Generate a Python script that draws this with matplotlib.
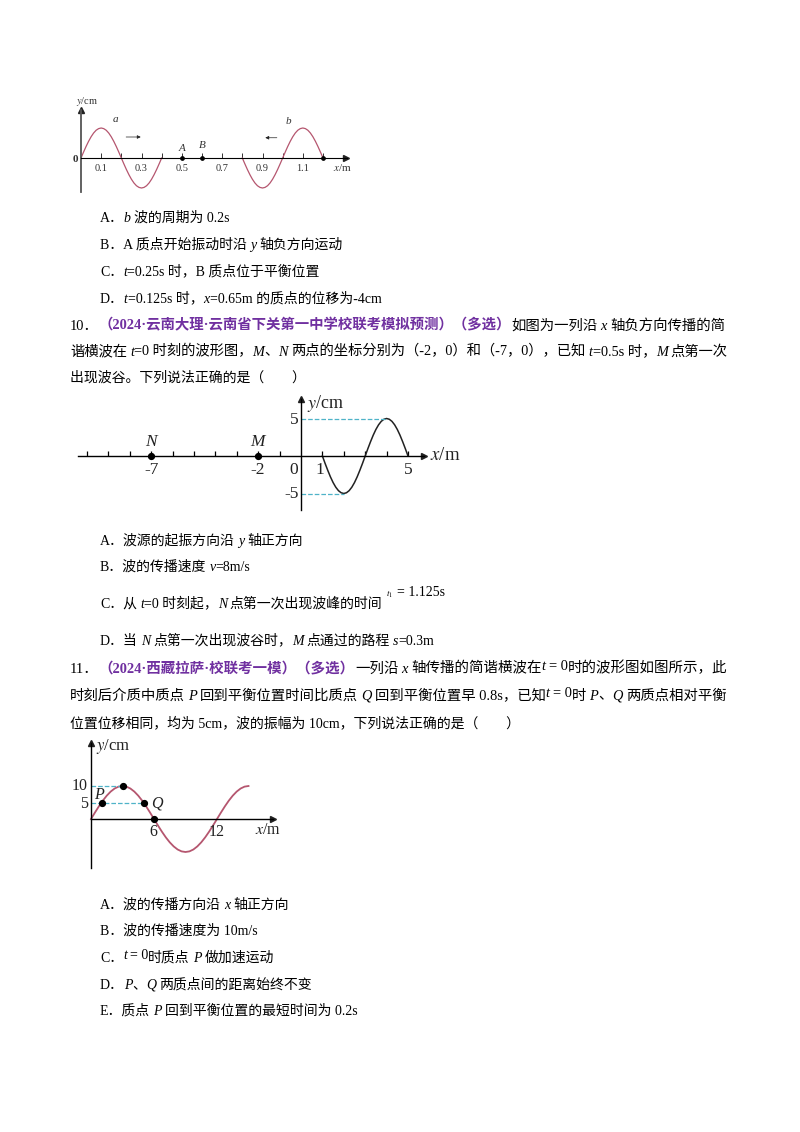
import numpy as np
import matplotlib
matplotlib.use("Agg")
import matplotlib.pyplot as plt

W, H = 800, 1132
TEXT_FONT = ["Liberation Serif", "Noto Sans CJK SC"]
PURPLE = "#7030A0"
WAVE_RED = "#B5566F"
DASH = "#4FB3C8"

# Wave diagram data
wave_a_x = [0, .0125, .025, .0375, .05, .0625, .075, .0875, .1, .1125, .125, .1375, .15, .1625, .175, .1875, .2,
            .2125, .225, .2375, .25, .2625, .275, .2875, .3, .3125, .325, .3375, .35, .3625, .375, .3875, .4]
wave_a_y = [0, .78, 1.53, 2.22, 2.83, 3.33, 3.7, 3.92, 4, 3.92, 3.7, 3.33, 2.83, 2.22, 1.53, .78, 0,
            -.78, -1.53, -2.22, -2.83, -3.33, -3.7, -3.92, -4, -3.92, -3.7, -3.33, -2.83, -2.22, -1.53, -.78, 0]
wave_b_x = [.8, .8125, .825, .8375, .85, .8625, .875, .8875, .9, .9125, .925, .9375, .95, .9625, .975, .9875, 1.0,
            1.0125, 1.025, 1.0375, 1.05, 1.0625, 1.075, 1.0875, 1.1, 1.1125, 1.125, 1.1375, 1.15, 1.1625, 1.175, 1.1875, 1.2]
wave_b_y = [0, -.78, -1.53, -2.22, -2.83, -3.33, -3.7, -3.92, -4, -3.92, -3.7, -3.33, -2.83, -2.22, -1.53, -.78, 0,
            .78, 1.53, 2.22, 2.83, 3.33, 3.7, 3.92, 4, 3.92, 3.7, 3.33, 2.83, 2.22, 1.53, .78, 0]
fig1_ticks = [.1, .2, .3, .4, .5, .6, .7, .8, .9, 1.0, 1.1, 1.2]
fig1_labels = ["0.1", "", "0.3", "", "0.5", "", "0.7", "", "0.9", "", "1.1", ""]
fig1_points_x = [.5, .6, 1.2]

wave2_x = [1, 1.125, 1.25, 1.375, 1.5, 1.625, 1.75, 1.875, 2, 2.125, 2.25, 2.375, 2.5, 2.625, 2.75, 2.875, 3,
           3.125, 3.25, 3.375, 3.5, 3.625, 3.75, 3.875, 4, 4.125, 4.25, 4.375, 4.5, 4.625, 4.75, 4.875, 5]
wave2_y = [0, -.98, -1.91, -2.78, -3.54, -4.16, -4.62, -4.9, -5, -4.9, -4.62, -4.16, -3.54, -2.78, -1.91, -.98, 0,
           .98, 1.91, 2.78, 3.54, 4.16, 4.62, 4.9, 5, 4.9, 4.62, 4.16, 3.54, 2.78, 1.91, .98, 0]
fig2_ticks = [-10, -9, -8, -7, -6, -5, -4, -3, -2, -1, 1, 2, 3, 4, 5]
fig2_points_x = [-7, -2]

wave3_x = [0, .375, .75, 1.125, 1.5, 1.875, 2.25, 2.625, 3, 3.375, 3.75, 4.125, 4.5, 4.875, 5.25, 5.625, 6,
           6.375, 6.75, 7.125, 7.5, 7.875, 8.25, 8.625, 9, 9.375, 9.75, 10.125, 10.5, 10.875, 11.25, 11.625, 12,
           12.375, 12.75, 13.125, 13.5, 13.875, 14.25, 14.625, 15]
wave3_y = [0, 1.95, 3.83, 5.56, 7.07, 8.31, 9.24, 9.81, 10, 9.81, 9.24, 8.31, 7.07, 5.56, 3.83, 1.95, 0,
           -1.95, -3.83, -5.56, -7.07, -8.31, -9.24, -9.81, -10, -9.81, -9.24, -8.31, -7.07, -5.56, -3.83, -1.95, 0,
           1.95, 3.83, 5.56, 7.07, 8.31, 9.24, 9.81, 10]
fig3_points_x = [1, 3, 5, 6]
fig3_points_y = [5, 10, 5, 0]

# Page text: ^ toggles the purple bold header, * toggles italic, ~ raises a piece a little
# (x, y centre, text, right edge to fit to or None)
page_lines = [
    (100, 217, "A．*b* 波的周期为 0.2s", None),
    (100, 244, "B．A 质点开始振动时沿 *y* 轴负方向运动", None),
    (100, 271, "C．*t*=0.25s 时，B 质点位于平衡位置", None),
    (100, 298, "D．*t*=0.125s 时，*x*=0.65m 的质点的位移为-4cm", None),
    (70, 325, "10．^（2024·云南大理·云南省下关第一中学校联考模拟预测）（多选）^如图为一列沿 *x* 轴负方向传播的简", 725),
    (70, 351, "谐横波在 *t*=0 时刻的波形图，*M*、*N* 两点的坐标分别为（-2，0）和（-7，0），已知 *t*=0.5s 时，*M* 点第一次", 730),
    (70, 377, "出现波谷。下列说法正确的是（　　）", None),
    (100, 540, "A．波源的起振方向沿 *y* 轴正方向", None),
    (100, 566, "B．波的传播速度 *v*=8m/s", None),
    (100, 603, "C．从 *t*=0 时刻起，*N* 点第一次出现波峰的时间", None),
    (100, 640, "D．当 *N* 点第一次出现波谷时，*M* 点通过的路程 *s*=0.3m", None),
    (70, 668, "11．^（2024·西藏拉萨·校联考一模）（多选）^一列沿 *x* 轴传播的简谐横波在~*t* = 0~时的波形图如图所示，此", 725),
    (70, 695, "时刻后介质中质点 *P* 回到平衡位置时间比质点 *Q* 回到平衡位置早 0.8s，已知~*t* = 0~时 *P*、*Q* 两质点相对平衡", 725),
    (70, 723, "位置位移相同，均为 5cm，波的振幅为 10cm，下列说法正确的是（　　）", None),
    (100, 904, "A．波的传播方向沿 *x* 轴正方向", None),
    (100, 930, "B．波的传播速度为 10m/s", None),
    (100, 957, "C．~*t* = 0~时质点 *P* 做加速运动", None),
    (100, 984, "D．*P*、*Q* 两质点间的距离始终不变", None),
    (100, 1010, "E．质点 *P* 回到平衡位置的最短时间为 0.2s", None),
]

fig = plt.figure(figsize=(W / 100, H / 100), dpi=100, facecolor="white")
page = fig.add_axes([0, 0, 1, 1])
page.set_xlim(0, W)
page.set_ylim(H, 0)
page.axis("off")
renderer = fig.canvas.get_renderer()


def split_runs(text):
    runs = []
    piece = ""
    italic = header = raised = False
    for ch in text:
        if ch in "*^~":
            if piece:
                runs.append((piece, italic, header, raised))
            piece = ""
            italic = italic != (ch == "*")
            header = header != (ch == "^")
            raised = raised != (ch == "~")
        else:
            piece += ch
    if piece:
        runs.append((piece, italic, header, raised))
    return runs


def draw_runs(x, y, runs, size):
    artists = []
    for txt, italic, header, raised in runs:
        lead = len(txt) - len(txt.lstrip(" "))
        trail = len(txt) - len(txt.rstrip(" "))
        x += lead * size * 0.3
        body = txt.strip(" ")
        if body:
            t = page.text(x, y + 4.6 - (3 if raised else 0), body, family=TEXT_FONT, fontsize=size,
                          style="italic" if italic else "normal",
                          weight="bold" if header else "normal",
                          color=PURPLE if header else "black",
                          ha="left", va="baseline")
            artists.append(t)
            x += t.get_window_extent(renderer).width
        x += trail * size * 0.3
    return x, artists


def draw_line(x, y, text, right, size=10):
    runs = split_runs(text)
    end, artists = draw_runs(x, y, runs, size)
    if right is not None:
        for a in artists:
            a.remove()
        size = size * (right - x) / (end - x)
        end, artists = draw_runs(x, y, runs, size)
    return end


def diagram_axes(x0_px, x1_px, y0_px, y1_px, xscale, yscale, xzero, yzero):
    # axes covering the given pixel box, with data scale set from pixels per unit
    ax = fig.add_axes([x0_px / W, 1 - y1_px / H, (x1_px - x0_px) / W, (y1_px - y0_px) / H])
    ax.set_xlim((x0_px - xzero) / xscale, (x1_px - xzero) / xscale)
    ax.set_ylim((yzero - y1_px) / yscale, (yzero - y0_px) / yscale)
    ax.patch.set_alpha(0)
    for side in ["top", "right"]:
        ax.spines[side].set_visible(False)
    ax.spines["left"].set_position(("data", 0))
    ax.spines["bottom"].set_position(("data", 0))
    ax.set_yticks([])
    ax.plot(1, 0, ">", color="#222222", ms=4.5, transform=ax.get_yaxis_transform(), clip_on=False)
    ax.plot(0, 1, "^", color="#222222", ms=4.5, transform=ax.get_xaxis_transform(), clip_on=False)
    return ax


for x, y, text, right in page_lines:
    draw_line(x, y, text, right)

# inline formula after option C of question 10
page.text(386, 594, "$t_1$", fontsize=6.5, family="Liberation Serif", va="center", math_fontfamily="stix")
page.text(397, 592, "= 1.125s", fontsize=10, family="Liberation Serif", va="center")

# Figure 1: waves a and b
ax1 = diagram_axes(70, 346, 110, 192, 242 / 1.2, 30 / 4, 81, 158)
ax1.plot(wave_a_x, wave_a_y, color=WAVE_RED, lw=0.9)
ax1.plot(wave_b_x, wave_b_y, color=WAVE_RED, lw=0.9)
ax1.spines["left"].set_linewidth(1.3)
ax1.spines["left"].set_color("#555555")
ax1.spines["bottom"].set_linewidth(0.8)
ax1.spines["bottom"].set_bounds(0, 1.32)
ax1.set_xticks(fig1_ticks, fig1_labels, family="Liberation Serif", fontsize=7.5)
ax1.tick_params(axis="x", direction="in", length=3.5, width=0.7, pad=4.5, colors="#333333")
ax1.plot(fig1_points_x, [0] * len(fig1_points_x), "o", color="black", ms=2.4)
ax1.annotate("", xy=(.31, 2.8), xytext=(.21, 2.8), arrowprops=dict(arrowstyle="-|>", lw=0.5, color="#222222", mutation_scale=5))
ax1.annotate("", xy=(.9, 2.7), xytext=(.985, 2.7), arrowprops=dict(arrowstyle="-|>", lw=0.5, color="#222222", mutation_scale=5))
serif1 = dict(family="Liberation Serif", fontsize=8, ha="center", va="center", color="#333333")
ax1.text(.169, 5.2, "a", style="italic", **serif1)
ax1.text(1.027, 4.8, "b", style="italic", **serif1)
ax1.text(.5, 1.33, "A", style="italic", **serif1)
ax1.text(.6, 1.6, "B", style="italic", **serif1)
ax1.text(-.03, -.15, "0", weight="bold", **serif1)
ax1.text(1.295, -1.25, "$\\mathit{x}$/m", math_fontfamily="stix", **serif1)
page.text(87, 101, "$\\mathit{y}$/cm", family="Liberation Serif", fontsize=7.5, ha="center", va="center", math_fontfamily="stix", color="#333333")

# Figure 2: question 10
ax2 = diagram_axes(78, 424, 399, 510, 21.4, 37.5 / 5, 301, 456)
ax2.plot(wave2_x, wave2_y, color="#222222", lw=1.1)
ax2.set_xticks(fig2_ticks, [""] * len(fig2_ticks))
ax2.tick_params(axis="x", direction="in", length=3.5, width=0.9)
ax2.spines["left"].set_linewidth(1.0)
ax2.spines["bottom"].set_linewidth(1.0)
ax2.plot(fig2_points_x, [0, 0], "o", color="black", ms=4.2)
ax2.plot([0, 4], [5, 5], "--", color=DASH, lw=0.9)
ax2.plot([0, 2], [-5, -5], "--", color=DASH, lw=0.9)
serif2 = dict(family="Liberation Serif", fontsize=12.5, ha="center", va="center", color="#222222")
ax2.text(-7, 1.9, "N", style="italic", **serif2)
ax2.text(-2.05, 1.9, "M", style="italic", **serif2)
ax2.text(-7, -1.9, "-7", **serif2)
ax2.text(-2.05, -1.9, "-2", **serif2)
ax2.text(-.33, -1.9, "0", **serif2)
ax2.text(.9, -1.9, "1", **serif2)
ax2.text(5, -1.9, "5", **serif2)
ax2.text(-.3, 4.8, "5", **serif2)
ax2.text(-.42, -5, "-5", **serif2)
page.text(326, 403, "$\\mathit{y}$/cm", family="Liberation Serif", fontsize=13, ha="center", va="center", color="#222222", math_fontfamily="stix")
page.text(445, 456, "$\\mathit{x}$/m", family="Liberation Serif", fontsize=13.5, ha="center", va="center", color="#222222", math_fontfamily="stix")

# Figure 3: question 11
ax3 = diagram_axes(70, 273, 743, 868, 10.5, 33 / 10, 91, 819)
ax3.plot(wave3_x, wave3_y, color=WAVE_RED, lw=1.3)
ax3.set_xticks([])
ax3.spines["left"].set_linewidth(1.0)
ax3.spines["bottom"].set_linewidth(1.0)
ax3.spines["bottom"].set_bounds(0, 17.3)
ax3.plot([0, 3], [10, 10], "--", color=DASH, lw=0.9)
ax3.plot([0, 5], [5, 5], "--", color=DASH, lw=0.9)
ax3.plot(fig3_points_x, fig3_points_y, "o", color="black", ms=4.2)
serif3 = dict(family="Liberation Serif", fontsize=11.5, ha="center", va="center", color="#222222")
ax3.text(-1.05, 10, "10", **serif3)
ax3.text(-.7, 4.5, "5", **serif3)
ax3.text(.76, 7.3, "P", style="italic", **serif3)
ax3.text(6.3, 4.8, "Q", style="italic", **serif3)
ax3.text(5.9, -3.9, "6", **serif3)
ax3.text(12, -3.9, "12", **serif3)
ax3.text(16.9, -3.3, "$\\mathit{x}$/m", math_fontfamily="stix", **serif3)
page.text(113, 747, "$\\mathit{y}$/cm", family="Liberation Serif", fontsize=12, ha="center", va="center", color="#222222", math_fontfamily="stix")

fig.savefig("out.png", dpi=100, facecolor="white")
